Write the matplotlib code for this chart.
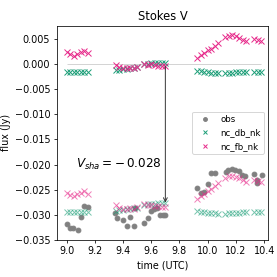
import numpy as np
import matplotlib.pyplot as plt

# model time grid (UTC hours)
t_model = np.array([9.00, 9.025, 9.05, 9.075, 9.10, 9.125, 9.15,
                    9.35, 9.375, 9.40, 9.425, 9.45, 9.475, 9.50,
                    9.55, 9.575, 9.60, 9.625, 9.65, 9.675, 9.70,
                    9.925, 9.95, 9.975, 10.00, 10.025, 10.05, 10.075,
                    10.125, 10.15, 10.175, 10.20, 10.225, 10.25, 10.27,
                    10.33, 10.355, 10.38])

nc_db_nk = np.array([-0.0015, -0.0015, -0.0015, -0.0015, -0.0015, -0.0015, -0.0015,
                     -0.0012, -0.0011, -0.0010, -0.0009, -0.0008, -0.0007, -0.0006,
                     0.0000, 0.0001, 0.0002, 0.0002, 0.0003, 0.0003, 0.0003,
                     -0.0013, -0.0014, -0.0015, -0.0016, -0.0017, -0.0017, -0.0018,
                     -0.0018, -0.0017, -0.0017, -0.0016, -0.0016, -0.0015, -0.0015,
                     -0.0015, -0.0015, -0.0015])

nc_fb_nk = np.array([0.0024, 0.0020, 0.0017, 0.0021, 0.0024, 0.0027, 0.0022,
                     -0.0001, -0.0006, -0.0008, -0.0008, -0.0007, -0.0008, -0.0005,
                     0.0001, -0.0001, 0.0000, -0.0002, -0.0003, -0.0004, -0.0004,
                     0.0012, 0.0018, 0.0022, 0.0028, 0.0031, 0.0037, 0.0043,
                     0.0054, 0.0057, 0.0058, 0.0056, 0.0053, 0.0049, 0.0046,
                     0.0050, 0.0048, 0.0046])

t_obs = np.array([9.00, 9.023, 9.043, 9.078, 9.10, 9.125, 9.153,
                  9.345, 9.36, 9.40, 9.425, 9.45, 9.475, 9.485,
                  9.55, 9.575, 9.60, 9.62, 9.64, 9.66, 9.68, 9.70,
                  9.926, 9.952, 9.974, 10.004, 10.023, 10.052,
                  10.13, 10.146, 10.17, 10.194, 10.222, 10.24, 10.265,
                  10.325, 10.35, 10.352, 10.385])

obs = np.array([-0.0319, -0.0326, -0.0327, -0.0331, -0.0304, -0.0283, -0.0284,
                -0.0296, -0.0306, -0.0311, -0.0323, -0.0305, -0.0323, -0.0286,
                -0.0316, -0.0306, -0.0292, -0.0288, -0.0287, -0.0300, -0.0300, -0.0300,
                -0.0247, -0.0256, -0.0255, -0.0238, -0.0216, -0.0217,
                -0.0214, -0.0210, -0.0209, -0.0210, -0.0213, -0.0220, -0.0222,
                -0.0218, -0.0236, -0.0231, -0.0221])

v_sha = -0.028
t_arrow = 9.70

c_db = "#1b9e77"
c_fb = "#e7298a"

fig, ax = plt.subplots(figsize=(4, 4), dpi=69.25)
fig.subplots_adjust(left=0.206, right=0.969, bottom=0.135, top=0.906)

ax.hlines(0, t_model.min(), t_model.max(), color="lightgray", lw=1)

ax.plot(t_obs, obs, "o", color="gray", ms=5, label="obs")
ax.plot(t_model, nc_db_nk, "x", color=c_db, ms=5.5, label="nc_db_nk")
ax.plot(t_model, nc_fb_nk, "x", color=c_fb, ms=5.5, label="nc_fb_nk")
# shifted by the constant V offset
ax.plot(t_model, nc_db_nk + v_sha, "x", color=c_db, ms=5.5, alpha=0.6)
ax.plot(t_model, nc_fb_nk + v_sha, "x", color=c_fb, ms=5.5, alpha=0.6)

ax.annotate("", xy=(t_arrow, v_sha), xytext=(t_arrow, 0),
            arrowprops=dict(arrowstyle="->", color="#333333", lw=1))
ax.text(9.07, -0.020, r"$V_{sha} = -\,0.028$", fontsize=12.5, va="center")

ax.set_xlim(8.933, 10.43)
ax.set_ylim(-0.035, 0.00766)
ax.set_xticks(np.arange(9.0, 10.41, 0.2))
ax.set_title("Stokes V")
ax.set_xlabel("time (UTC)")
ax.set_ylabel("flux (Jy)")
ax.legend(loc="center right", fontsize=9, markerscale=0.8)

fig.savefig("out.png")
